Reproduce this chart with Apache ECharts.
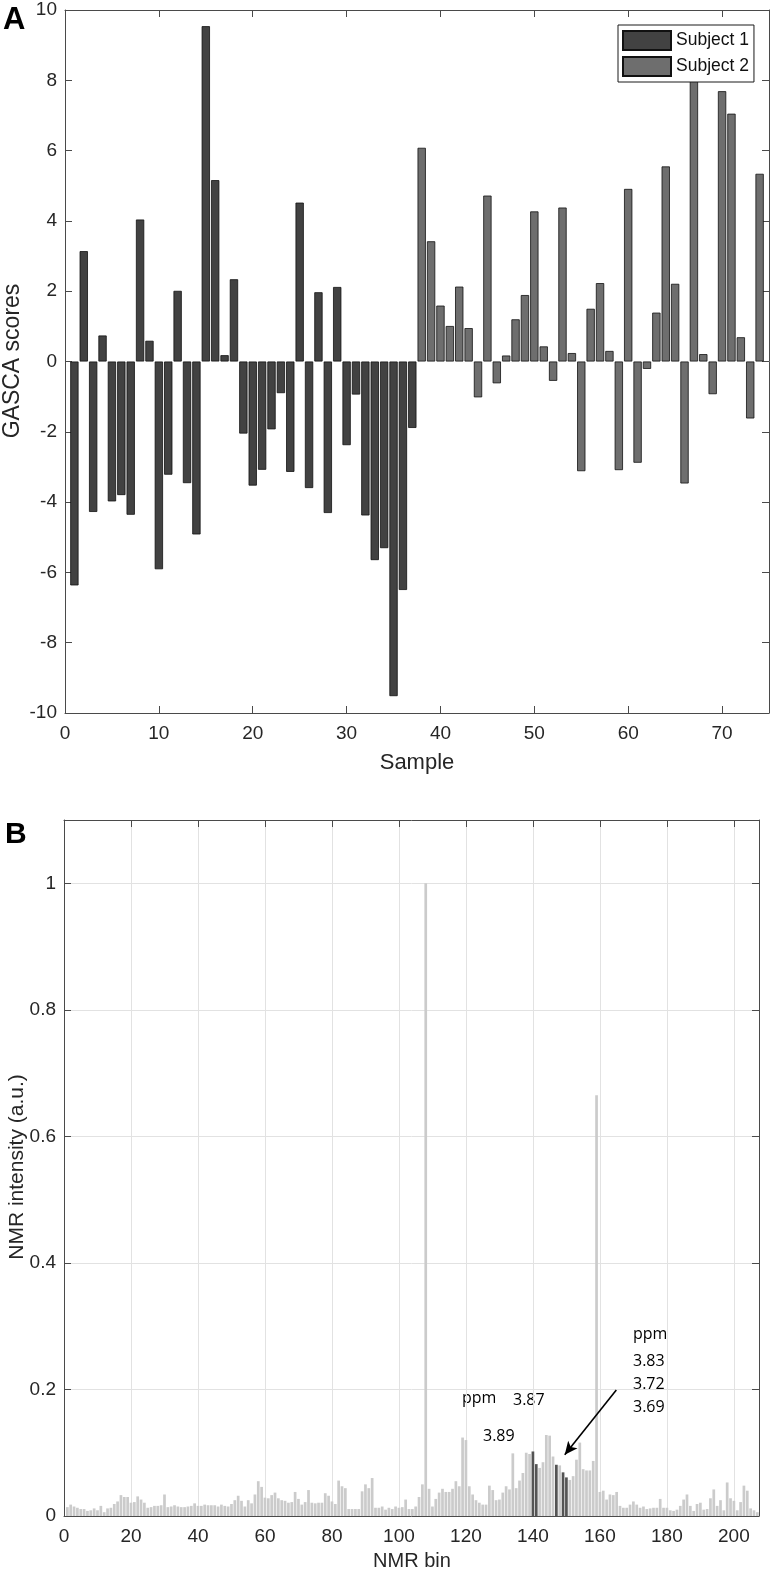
<!DOCTYPE html>
<html>
<head>
<meta charset="utf-8">
<script src="https://cdn.jsdelivr.net/npm/echarts@6/dist/echarts.min.js"></script>
<style>
html,body{margin:0;padding:0;background:#fff;}
#chart{width:774px;height:1572px;}
</style>
</head>
<body>
<div id="chart"></div>
<script>
// ---------- Panel A data ----------
const samples1 = [1,2,3,4,5,6,7,8,9,10,11,12,13,14,15,16,17,18,19,20,21,22,23,24,25,26,27,28,29,30,31,32,33,34,35,36,37];
const scores1 = [-6.37,3.14,-4.28,0.74,-3.98,-3.80,-4.36,4.04,0.59,-5.91,-3.22,2.01,-3.46,-4.92,9.54,5.16,0.18,2.34,-2.05,-3.53,-3.08,-1.93,-0.90,-3.14,4.52,-3.60,1.97,-4.31,2.12,-2.38,-0.94,-4.38,-5.65,-5.31,-9.52,-6.50,-1.89];
const samples2 = [38,39,40,41,42,43,44,45,46,47,48,49,50,51,52,53,54,55,56,57,58,59,60,61,62,63,64,65,66,67,68,69,70,71,72,73,74];
const scores2 = [6.08,3.42,1.59,1.01,2.13,0.95,-1.02,4.72,-0.62,0.17,1.20,1.89,4.27,0.43,-0.55,4.38,0.24,-3.12,1.50,2.23,0.30,-3.09,4.91,-2.88,-0.21,1.39,5.55,2.21,-3.47,8.60,0.21,-0.93,7.69,7.05,0.69,-1.62,5.34];
const seriesNames = ['Subject 1','Subject 2'];

// ---------- Panel B data ----------
const nmrIntensity = [
0.014,0.018,0.015,0.013,0.011,0.011,0.008,0.009,0.012,0.009,
0.016,0.006,0.012,0.013,0.019,0.023,0.033,0.030,0.030,0.021,
0.022,0.031,0.026,0.021,0.013,0.014,0.016,0.016,0.017,0.034,
0.014,0.015,0.017,0.015,0.014,0.014,0.015,0.016,0.020,0.016,
0.016,0.018,0.017,0.017,0.017,0.015,0.018,0.016,0.015,0.019,
0.025,0.032,0.024,0.015,0.025,0.020,0.034,0.055,0.046,0.029,
0.028,0.033,0.037,0.028,0.025,0.024,0.021,0.022,0.038,0.027,
0.018,0.022,0.041,0.021,0.020,0.021,0.021,0.036,0.032,0.023,
0.019,0.056,0.047,0.044,0.011,0.011,0.011,0.011,0.039,0.050,
0.044,0.060,0.013,0.013,0.015,0.010,0.013,0.011,0.015,0.013,
0.014,0.026,0.011,0.011,0.015,0.030,0.050,1.000,0.043,0.015,
0.027,0.037,0.043,0.038,0.038,0.043,0.055,0.047,0.124,0.120,
0.047,0.034,0.025,0.021,0.018,0.018,0.048,0.041,0.025,0.026,
0.037,0.047,0.042,0.099,0.044,0.056,0.068,0.100,0.098,0.102,
0.082,0.076,0.085,0.128,0.127,0.094,0.081,0.080,0.069,0.061,
0.057,0.063,0.089,0.116,0.074,0.072,0.072,0.087,0.665,0.038,
0.040,0.026,0.034,0.033,0.038,0.016,0.013,0.013,0.018,0.023,
0.018,0.013,0.015,0.011,0.012,0.013,0.013,0.027,0.013,0.013,
0.009,0.008,0.010,0.016,0.026,0.034,0.016,0.008,0.019,0.021,
0.010,0.011,0.028,0.042,0.016,0.025,0.009,0.053,0.028,0.024,
0.009,0.022,0.048,0.040,0.012,0.009,0.006
];
const highlightBins = [140,141,147,149,150];
const arrowFrom = [164.9, 0.199];
const arrowTo = [149.5, 0.097];

// ---------- styling ----------
const FONT = 'Liberation Sans, Arial, Helvetica, sans-serif';
const TXT = '#262626';
const AX = '#4a4a4a';
const C1 = '#424242', C2 = '#6e6e6e';
const LIGHT = '#cbcbcb', DARK = '#545454';
const TICKFS = 19;

function pairs(xs, ys){ return xs.map((x,i)=>[x, ys[i]]); }
const nmrData = nmrIntensity.map((v,i)=>{
  const bin = i+1;
  const item = {value:[bin, v]};
  if (highlightBins.indexOf(bin) >= 0) item.itemStyle = {color: DARK};
  return item;
});

function xAx(grid, pos, max, interval, show, split){
  return {
    gridIndex: grid, type:'value', position: pos, min:0, max:max, interval:interval,
    axisLine:{show:true, onZero:false, lineStyle:{color:AX, width:1}},
    axisTick:{show:true, inside:true, length:7, lineStyle:{color:AX}},
    axisLabel:{show:show, color:TXT, fontSize:TICKFS, fontFamily:FONT, margin:11, showMaxLabel:false},
    splitLine:{show:split, lineStyle:{color:'#e2e2e2', width:1}}
  };
}
function yAx(grid, pos, min, max, interval, show, split){
  return {
    gridIndex: grid, type:'value', position: pos, min:min, max:max, interval:interval,
    axisLine:{show:true, onZero:false, lineStyle:{color:AX, width:1}},
    axisTick:{show:true, inside:true, length:7, lineStyle:{color:AX}},
    axisLabel:{show:show, color:TXT, fontSize:TICKFS, fontFamily:FONT, margin:8, showMaxLabel: max === 10},
    splitLine:{show:split, lineStyle:{color:'#e2e2e2', width:1}}
  };
}

const chart = echarts.init(document.getElementById('chart'), null, {renderer:'canvas'});
const option = {
  animation:false,
  backgroundColor:'#fff',
  textStyle:{fontFamily:FONT},
  grid:[
    {left:65, top:10, width:704, height:703},
    {left:64, top:820, width:695, height:696}
  ],
  xAxis:[
    xAx(0,'bottom',75,10,true,false),
    xAx(0,'top',75,10,false,false),
    xAx(1,'bottom',207.5,20,true,true),
    xAx(1,'top',207.5,20,false,false)
  ],
  yAxis:[
    yAx(0,'left',-10,10,2,true,false),
    yAx(0,'right',-10,10,2,false,false),
    yAx(1,'left',0,1.1,0.2,true,true),
    yAx(1,'right',0,1.1,0.2,false,false)
  ],
  legend:{
    data: seriesNames,
    left:618, top:25, orient:'vertical',
    itemWidth:48, itemHeight:19, itemGap:5,
    padding:[5,5,5,4],
    backgroundColor:'#fff', borderColor:'#1a1a1a', borderWidth:1, borderRadius:0,
    icon:'rect',
    textStyle:{fontSize:17.5, color:'#111', fontFamily:FONT}
  },
  series:[
    {name:seriesNames[0], type:'bar', xAxisIndex:0, yAxisIndex:0, barWidth:8.3, barGap:'-100%',
     itemStyle:{color:C1, borderColor:'#111', borderWidth:0.8}, data:pairs(samples1, scores1)},
    {name:seriesNames[1], type:'bar', xAxisIndex:0, yAxisIndex:0, barWidth:8.3, barGap:'-100%',
     itemStyle:{color:C2, borderColor:'#111', borderWidth:0.8}, data:pairs(samples2, scores2)},
    {name:'NMR', type:'bar', xAxisIndex:2, yAxisIndex:2, barWidth:2.7,
     itemStyle:{color:LIGHT}, data:nmrData,
     markLine:{silent:true, symbol:['none','arrow'], symbolSize:[9,13],
       label:{show:false}, lineStyle:{color:'#000', width:1.6, type:'solid'},
       emphasis:{disabled:true},
       data:[[{coord:arrowFrom},{coord:arrowTo}]]}
    }
  ],
  graphic:[
    {type:'text', x:3, y:5, style:{text:'A', fontSize:31, fontWeight:'bold', fontFamily:FONT, fill:'#000'}},
    {type:'text', x:5, y:820, style:{text:'B', fontSize:30, fontWeight:'bold', fontFamily:FONT, fill:'#000'}},
    {type:'text', x:13, y:361, rotation:Math.PI/2, style:{text:'GASCA scores', fontSize:23, fontFamily:FONT, fill:TXT, align:'center', verticalAlign:'middle'}},
    {type:'text', x:417, y:763, style:{text:'Sample', fontSize:22, fontFamily:FONT, fill:TXT, align:'center', verticalAlign:'middle'}},
    {type:'text', x:17, y:1167, rotation:Math.PI/2, style:{text:'NMR intensity (a.u.)', fontSize:21, fontFamily:FONT, fill:TXT, align:'center', verticalAlign:'middle'}},
    {type:'text', x:412, y:1561, style:{text:'NMR bin', fontSize:20, fontFamily:FONT, fill:TXT, align:'center', verticalAlign:'middle'}},
    {type:'text', x:462, y:1398, style:{text:'ppm', fontSize:16, fontFamily:'Open Sans', fill:'#000', verticalAlign:'middle'}},
    {type:'text', x:513, y:1400, style:{text:'3.87', fontSize:16, fontFamily:'Open Sans', fill:'#000', verticalAlign:'middle'}},
    {type:'text', x:483, y:1436, style:{text:'3.89', fontSize:16, fontFamily:'Open Sans', fill:'#000', verticalAlign:'middle'}},
    {type:'text', x:633, y:1334, style:{text:'ppm', fontSize:16, fontFamily:'Open Sans', fill:'#000', verticalAlign:'middle'}},
    {type:'text', x:633, y:1361, style:{text:'3.83', fontSize:16, fontFamily:'Open Sans', fill:'#000', verticalAlign:'middle'}},
    {type:'text', x:633, y:1384, style:{text:'3.72', fontSize:16, fontFamily:'Open Sans', fill:'#000', verticalAlign:'middle'}},
    {type:'text', x:633, y:1407, style:{text:'3.69', fontSize:16, fontFamily:'Open Sans', fill:'#000', verticalAlign:'middle'}}
  ]
};
chart.setOption(option);
</script>
</body>
</html>
